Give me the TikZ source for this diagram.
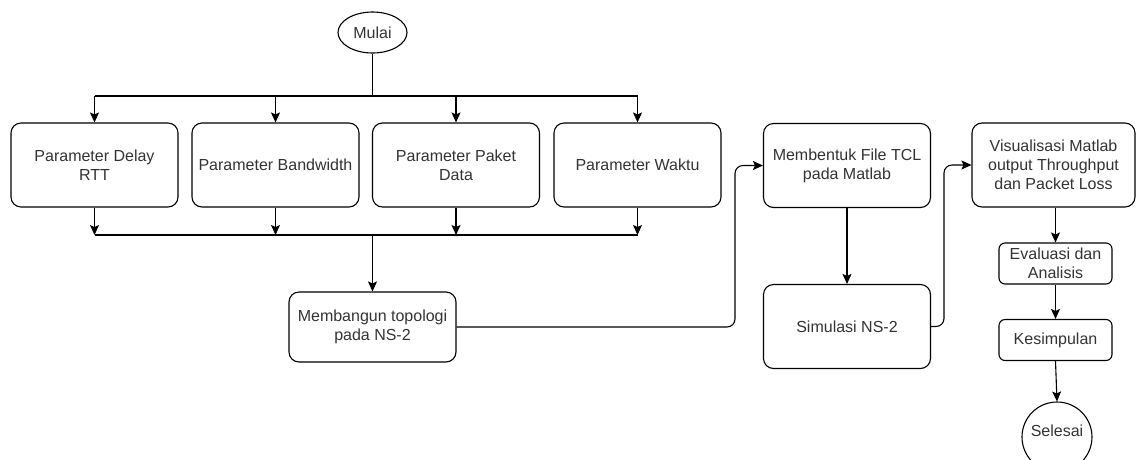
\documentclass[tikz,border=0pt]{standalone}
\usepackage{fontspec}
\setmainfont{Liberation Sans}
\usetikzlibrary{arrows.meta,positioning,shapes.geometric}

\begin{document}
\begin{tikzpicture}[x=1pt,y=-1pt,
	font=\fontsize{16}{19}\selectfont,
	garis/.style={line width=1.1pt},
	panah/.style={garis,-{Stealth[length=10pt,width=9pt,inset=2pt]}},
	kotak/.style={draw, line width=1.1pt, rounded corners=10pt, minimum width=167pt, minimum height=84pt, inner sep=2pt, align=center, text=black!80},
	kecil/.style={kotak, rounded corners=6pt, minimum width=113pt, minimum height=41pt},
	bulat/.style={draw, line width=1.1pt, inner sep=0pt, align=center, text=black!80}]
	
	\useasboundingbox (0,0) rectangle (1136,459);
	\clip (0,0) rectangle (1136,459);
	
	% awal dan parameter
	\node[bulat, ellipse, minimum width=69pt, minimum height=41pt] (mulai) at (372.5,32.5) {Mulai};
	\node[kotak] (delay) at (94.5,165) {Parameter Delay\\RTT};
	\node[kotak] (bandwidth) at (275.5,165) {Parameter Bandwidth};
	\node[kotak] (paket) at (456,165) {Parameter Paket\\Data};
	\node[kotak] (waktu) at (637.5,165) {Parameter Waktu};
	\node[kotak, minimum height=70pt] (topologi) at (372.5,327) {Membangun topologi\\pada NS-2};
	
	% matlab dan ns-2
	\node[kotak] (tcl) at (847,165.5) {Membentuk File TCL\\pada Matlab};
	\node[kotak] (simulasi) at (847,326.5) {Simulasi NS-2};
	\node[kotak, minimum width=163pt] (visual) at (1053.5,165) {Visualisasi Matlab\\output Throughput\\dan Packet Loss};
	\node[kecil] (evaluasi) at (1055.5,263.5) {Evaluasi dan\\Analisis};
	\node[kecil] (simpulan) at (1055.5,340) {Kesimpulan};
	\node[bulat, circle, minimum size=70pt, text depth=12pt] (selesai) at (1057,437) {Selesai};
	
	% percabangan
	\coordinate (atas) at (372.5,96);
	\coordinate (bawah) at (372.5,235);
	\draw[garis] (mulai.south) -- (atas);
	\draw[garis] (delay.north |- atas) -- (waktu.north |- atas);
	\draw[garis] (delay.south |- bawah) -- (waktu.south |- bawah);
	\foreach \n in {delay,bandwidth,paket,waktu}{
		\draw[panah] (\n.north |- atas) -- (\n.north);
		\draw[panah] (\n.south) -- (\n.south |- bawah);
	}
	\draw[panah] (bawah) -- (topologi.north);
	
	% alur ke kanan
	\coordinate (belok1) at (735,165.5);
	\coordinate (belok2) at (944,165);
	\draw[panah, rounded corners=8pt] (topologi.east) -| (belok1) -- (tcl.west);
	\draw[panah] (tcl.south) -- (simulasi.north);
	\draw[panah, rounded corners=8pt] (simulasi.east) -| (belok2) -- (visual.west);
	\draw[panah] (evaluasi.north |- visual.south) -- (evaluasi.north);
	\draw[panah] (evaluasi.south) -- (simpulan.north);
	\draw[panah] (simpulan.south) -- (selesai.north);
\end{tikzpicture}
\end{document}
